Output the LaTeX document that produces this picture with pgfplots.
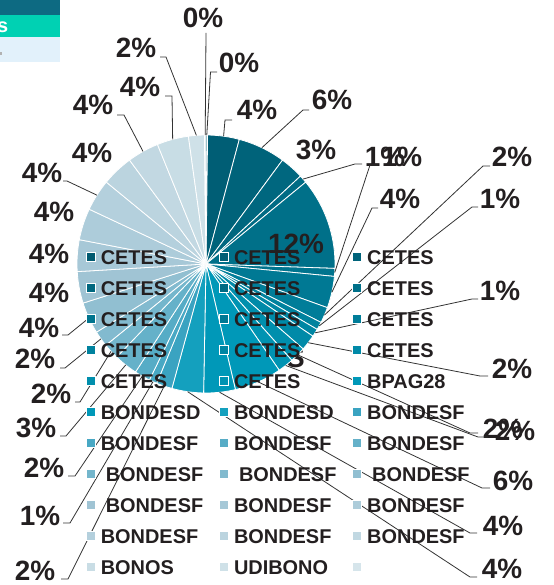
\documentclass[border=0pt]{standalone}
\usepackage{pgfplots}
\usepackage{pgfplotstable}
\pgfplotsset{compat=1.18}
\usepackage{fontspec}
\setmainfont{Liberation Sans}

\definecolor{cA}{HTML}{005A70}
\definecolor{cB}{HTML}{0098B8}
\definecolor{cD}{HTML}{3AA3C1}
\definecolor{cM}{HTML}{A0C4D4}
\definecolor{cC}{HTML}{D6E5EB}
\definecolor{labcol}{HTML}{231F20}
\definecolor{leadcol}{HTML}{333333}
\definecolor{hdA}{HTML}{0D6A82}
\definecolor{hdB}{HTML}{00D1B3}
\definecolor{hdC}{HTML}{E2F1FB}

\pgfplotsforeachungrouped \i in {1,...,15}{%
  \pgfmathtruncatemacro\p{(\i-1)/14*100}%
  \colorlet{c\i}{cB!\p!cA}}
\colorlet{c16}{cB}
\colorlet{c17}{cB!92!white}
\pgfplotsforeachungrouped \i in {18,...,25}{%
  \pgfmathtruncatemacro\p{(\i-18)/7*100}%
  \colorlet{c\i}{cM!\p!cD}}
\pgfplotsforeachungrouped \i in {26,...,33}{%
  \pgfmathtruncatemacro\p{(\i-25)/8*100}%
  \colorlet{c\i}{cC!\p!cM}}

% v = share (%), lead = leader line, ex/ey = elbow, hx = end of short horizontal, lx/ly = label centre / baseline (pixels, y down)
\pgfplotstableread{
v lead ex ey hx lx ly
0.2 1 210.5 72 217 239 73
4 1 225 120 232 257 120
6 1 303 110 309 332 110
3 0 0 0 0 316 160
1 1 355 164 362 385 167
11.6 0 0 0 0 296 253
1 1 370 165 378 402 167
4 1 372 208 378 400 208
2 1 483 166 490 512 167
1 1 472 207 478 500 208
1 1 472 299 478 500 300
2 1 480 376 488 512 378
2 1 470 433 478 503 438
2 1 478 437 488 515 440
6 1 482 488 490 513 490
4 1 470 533 477 503 535
4 1 470 577 477 502 578
2 1 68 579 61 35 580
1 1 70 523 63 40 525
2 1 75 476 68 44 477
3 1 66 436 60 36 437
2 1 80 402 75 51 403
2 1 65 368 60 35 368
4 1 68 335 62 39 337
4 0 0 0 0 49 302
4 0 0 0 0 49 263
4 0 0 0 0 54 221
4 1 67 181 63 42 182
4 0 0 0 0 92 163
4 1 124 115 117 93 115
4 1 172 96 165 140 97
2 1 166 57 160 136 58
0.2 1 206 33 206 203 28
}\piedata

\def\tot{0}
\pgfplotsforeachungrouped \i in {0,...,32}{%
  \pgfplotstablegetelem{\i}{v}\of\piedata
  \pgfmathsetmacro\tot{\tot+\pgfplotsretval}}

\tikzset{
  lbl/.style={font=\fontsize{28}{30}\selectfont\bfseries, text=labcol, inner sep=0pt, anchor=base},
}

\begin{document}
\begin{tikzpicture}
\begin{axis}[
  at={(0,0)}, anchor=origin,
  x=1bp, y=1bp, xmin=0, xmax=554, ymin=-585, ymax=0,
  hide axis, clip=false,
  legend columns=3,
  legend image code/.code={\draw[#1,draw=white,line width=0.8bp] (0bp,2.5bp) rectangle (9bp,11.5bp);},
  legend style={
    at={(axis cs:86,-250)}, anchor=north west,
    draw=none, fill=none, inner sep=0pt, outer sep=0pt,
    font=\fontsize{20}{24}\selectfont\bfseries, text=labcol,
    cells={anchor=base west},
    nodes={inner sep=0pt, outer sep=0pt, text height=14bp, text depth=3bp},
    row sep=14bp,
    /tikz/every odd column/.style={column sep=5bp},
    /tikz/every even column/.style={column sep=16bp},
  },
]
% cropped header fragment at top left
\fill[hdA] (axis cs:0,0) rectangle (axis cs:60,-15);
\fill[hdB] (axis cs:0,-15) rectangle (axis cs:60,-37);
\fill[hdC] (axis cs:0,-37) rectangle (axis cs:60,-62);
\node[font=\fontsize{20}{22}\selectfont\bfseries, text=white, inner sep=0pt, anchor=base west] at (axis cs:-3,-33) {s};
\fill[gray!60] (axis cs:0,-52) rectangle (axis cs:2,-55);
% stray text partly hidden by the pie
\node[lbl, anchor=base west] at (axis cs:286,-367) {S};

\def\cum{0}
\pgfplotsforeachungrouped \i in {0,...,32}{%
  \pgfplotstablegetelem{\i}{v}\of\piedata \let\val\pgfplotsretval
  \pgfmathtruncatemacro\j{\i+1}%
  \pgfmathsetmacro\a{90-(\cum/\tot)*360}%
  \pgfmathsetmacro\cum{\cum+\val}%
  \pgfmathsetmacro\b{90-(\cum/\tot)*360}%
  \edef\tmp{\noexpand\fill[c\j, draw=white, line width=0.8bp] (axis cs:206,-264) -- ++(\a:129bp) arc[start angle=\a, end angle=\b, radius=129bp] -- cycle;}%
  \tmp
}

\def\cum{0}
\pgfplotsforeachungrouped \i in {0,...,32}{%
  \pgfplotstablegetelem{\i}{v}\of\piedata \let\val\pgfplotsretval
  \pgfplotstablegetelem{\i}{lead}\of\piedata \let\lead\pgfplotsretval
  \pgfplotstablegetelem{\i}{ex}\of\piedata \let\ex\pgfplotsretval
  \pgfplotstablegetelem{\i}{ey}\of\piedata \let\ey\pgfplotsretval
  \pgfplotstablegetelem{\i}{hx}\of\piedata \let\hx\pgfplotsretval
  \pgfplotstablegetelem{\i}{lx}\of\piedata \let\lx\pgfplotsretval
  \pgfplotstablegetelem{\i}{ly}\of\piedata \let\ly\pgfplotsretval
  \pgfmathsetmacro\m{90-((\cum+\val/2)/\tot)*360}%
  \pgfmathsetmacro\cum{\cum+\val}%
  \pgfmathsetmacro\px{206+129*cos(\m)}%
  \pgfmathsetmacro\py{-264+129*sin(\m)}%
  \pgfmathtruncatemacro\lab{round(\val)}%
  \ifnum\lead=1
    \edef\tmp{\noexpand\draw[leadcol, line width=0.8bp] (axis cs:\px,\py) -- (axis cs:\ex,-\ey) -- (axis cs:\hx,-\ey);}%
    \tmp
  \fi
  \edef\tmp{\noexpand\node[lbl] at (axis cs:\lx,-\ly) {\lab\noexpand\%};}%
  \tmp
}

\addlegendimage{fill=c1}\addlegendentry{CETES}
\addlegendimage{fill=c2}\addlegendentry{CETES}
\addlegendimage{fill=c3}\addlegendentry{CETES}
\addlegendimage{fill=c4}\addlegendentry{CETES}
\addlegendimage{fill=c5}\addlegendentry{CETES}
\addlegendimage{fill=c6}\addlegendentry{CETES}
\addlegendimage{fill=c7}\addlegendentry{CETES}
\addlegendimage{fill=c8}\addlegendentry{CETES}
\addlegendimage{fill=c9}\addlegendentry{CETES}
\addlegendimage{fill=c10}\addlegendentry{CETES}
\addlegendimage{fill=c11}\addlegendentry{CETES}
\addlegendimage{fill=c12}\addlegendentry{CETES}
\addlegendimage{fill=c13}\addlegendentry{CETES}
\addlegendimage{fill=c14}\addlegendentry{CETES}
\addlegendimage{fill=c15}\addlegendentry{BPAG28}
\addlegendimage{fill=c16}\addlegendentry{BONDESD}
\addlegendimage{fill=c17}\addlegendentry{BONDESD}
\addlegendimage{fill=c18}\addlegendentry{BONDESF}
\addlegendimage{fill=c19}\addlegendentry{BONDESF}
\addlegendimage{fill=c20}\addlegendentry{BONDESF}
\addlegendimage{fill=c21}\addlegendentry{BONDESF}
\addlegendimage{fill=c22}\addlegendentry{\kern5bp BONDESF}
\addlegendimage{fill=c23}\addlegendentry{\kern5bp BONDESF}
\addlegendimage{fill=c24}\addlegendentry{\kern5bp BONDESF}
\addlegendimage{fill=c25}\addlegendentry{\kern5bp BONDESF}
\addlegendimage{fill=c26}\addlegendentry{BONDESF}
\addlegendimage{fill=c27}\addlegendentry{BONDESF}
\addlegendimage{fill=c28}\addlegendentry{BONDESF}
\addlegendimage{fill=c29}\addlegendentry{BONDESF}
\addlegendimage{fill=c30}\addlegendentry{BONDESF}
\addlegendimage{fill=c31}\addlegendentry{BONOS}
\addlegendimage{fill=c32}\addlegendentry{UDIBONO}
\addlegendimage{fill=c33}\addlegendentry{\kern0pt}

\coordinate (BL) at (axis cs:0,-585);
\coordinate (TR) at (axis cs:554,0);
\end{axis}
\pgfresetboundingbox
\useasboundingbox (BL) rectangle (TR);
\end{tikzpicture}
\end{document}
